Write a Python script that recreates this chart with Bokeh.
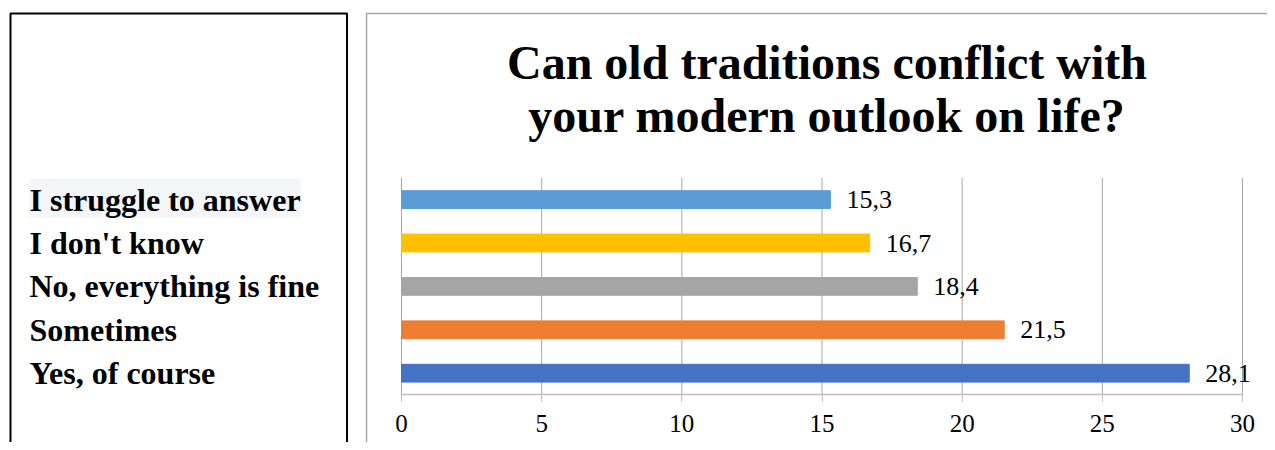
from bokeh.plotting import figure
from bokeh.models import ColumnDataSource, LabelSet, Label, BoxAnnotation, Range1d
from bokeh.embed import file_html
from bokeh.resources import INLINE

# ---- data ----
categories = ["Yes, of course", "Sometimes", "No, everything is fine", "I don't know", "I struggle to answer"]
values = [28.1, 21.5, 18.4, 16.7, 15.3]
value_labels = ["28,1", "21,5", "18,4", "16,7", "15,3"]
colors = ["#4472C4", "#ED7D31", "#A5A5A5", "#FFC000", "#5B9BD5"]
x_ticks = [0, 5, 10, 15, 20, 25, 30]
title_lines = ["Can old traditions conflict with", "your modern outlook on life?"]

positions = list(range(len(categories)))  # category slots, bottom to top
src = ColumnDataSource(dict(cat=categories, pos=positions, val=values, lab=value_labels, color=colors))

W, H = 1267, 442
# layout of the plot area inside the canvas (pixels)
PX_LEFT, PX_RIGHT = 401, 1242      # x = 0 and x = 30
BAND = 43.4                         # pixels per category slot
PX_FIRST = 372.7                    # centre of the lowest category (from top)

xs = (PX_RIGHT - PX_LEFT) / (x_ticks[-1] - x_ticks[0])
x_range = Range1d(x_ticks[0] - PX_LEFT / xs, x_ticks[-1] + (W - PX_RIGHT) / xs)
y_range = Range1d((PX_FIRST - H) / BAND, PX_FIRST / BAND)

p = figure(width=W, height=H, x_range=x_range, y_range=y_range,
           output_backend="svg", toolbar_location=None,
           min_border=0, title=None)
p.outline_line_color = None
p.background_fill_color = "white"
p.border_fill_color = "white"

band_lo = positions[0] - 0.5
band_hi = positions[-1] + 0.5

# page frames (canvas units, y measured from the top)
left_box = BoxAnnotation(left=10, right=346.5, top=13, bottom=H + 30,
                         left_units="canvas", right_units="canvas",
                         top_units="canvas", bottom_units="canvas",
                         fill_color=None, fill_alpha=0, line_color="black",
                         line_alpha=1, line_width=2)
right_box = BoxAnnotation(left=366, right=W + 30, top=13, bottom=H + 30,
                          left_units="canvas", right_units="canvas",
                          top_units="canvas", bottom_units="canvas",
                          fill_color=None, fill_alpha=0, line_color="#a6a6a6",
                          line_alpha=1, line_width=1.5)
highlight = BoxAnnotation(left=29, right=300, top=178, bottom=217,
                          left_units="canvas", right_units="canvas",
                          top_units="canvas", bottom_units="canvas",
                          fill_color="#f4f5f8", fill_alpha=1, line_color=None)
p.add_layout(left_box)
p.add_layout(right_box)
p.add_layout(highlight)

# vertical grid lines over the category band only
p.segment(x0=x_ticks, x1=x_ticks, y0=[band_lo] * len(x_ticks), y1=[band_hi] * len(x_ticks),
          line_color="#a6a6a6", line_width=1)

p.hbar(y="pos", right="val", height=0.41, color="color", source=src)

# axes & grid
p.yaxis.visible = False
p.xgrid.visible = False
p.ygrid.visible = False
ax = p.xaxis[0]
ax.fixed_location = band_lo
ax.bounds = (x_ticks[0], x_ticks[-1])
ax.ticker = x_ticks
ax.axis_line_color = "#bfbfbf"
ax.axis_line_width = 1.5
ax.major_tick_line_color = "#bfbfbf"
ax.major_tick_out = 7
ax.major_tick_in = 0
ax.minor_tick_line_color = None
ax.major_label_standoff = 13
ax.major_label_text_font = "Liberation Serif"
ax.major_label_text_font_size = "25px"
ax.major_label_text_color = "black"

# value labels
p.add_layout(LabelSet(x="val", y="pos", text="lab", source=src, x_offset=16,
                      text_baseline="middle", text_font="Liberation Serif",
                      text_font_size="26px", text_color="black"))

# category labels in the left box
p.add_layout(LabelSet(x=29, x_units="canvas", y="pos", text="cat", source=src,
                      text_baseline="middle", text_font="Liberation Serif",
                      text_font_size="32px", text_font_style="bold", text_color="black"))

# title (two lines)
title_x = (x_ticks[0] + x_ticks[-1]) / 2
for line, px_mid in zip(title_lines, [62, 115]):
    p.add_layout(Label(x=title_x, y=(PX_FIRST - px_mid) / BAND, x_offset=5, text=line,
                       text_align="center", text_baseline="middle",
                       text_font="Liberation Serif", text_font_size="48px",
                       text_font_style="bold", text_color="black"))

open("out.html", "w").write(file_html(p, INLINE))
